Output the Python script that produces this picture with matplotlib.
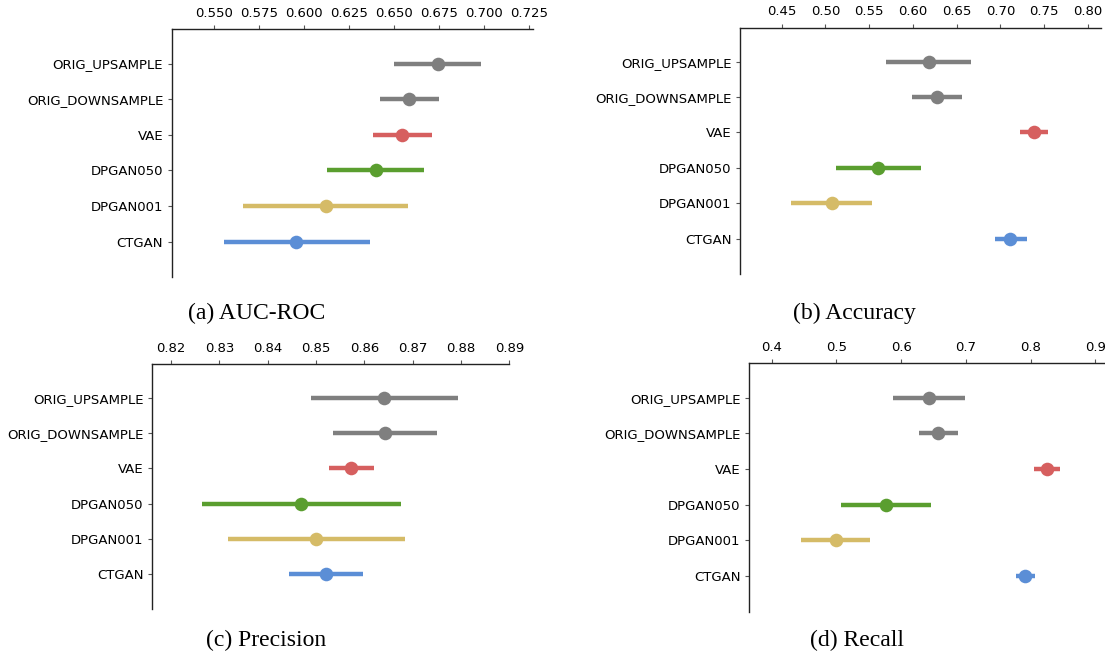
import matplotlib
matplotlib.use('Agg')
import matplotlib.pyplot as plt
from matplotlib.transforms import Bbox, TransformedBbox

# Models (top to bottom)
models = ['ORIG_UPSAMPLE', 'ORIG_DOWNSAMPLE', 'VAE', 'DPGAN050', 'DPGAN001', 'CTGAN']
model_colors = ['#7f7f7f', '#7f7f7f', '#d65f5f', '#5a9e2f', '#d5bb67', '#5b8ed6']

# AUC-ROC: point estimate and interval
auc_mean = [0.6743, 0.6583, 0.6547, 0.6398, 0.6121, 0.5958]
auc_lo = [0.6502, 0.6421, 0.6384, 0.6130, 0.5661, 0.5554]
auc_hi = [0.6982, 0.6750, 0.6709, 0.6665, 0.6581, 0.6365]

# Accuracy
acc_mean = [0.6180, 0.6279, 0.7385, 0.5606, 0.5071, 0.7114]
acc_lo = [0.5695, 0.5987, 0.7223, 0.5116, 0.4606, 0.6935]
acc_hi = [0.6663, 0.6558, 0.7547, 0.6089, 0.5535, 0.7300]

# Precision
prec_mean = [0.8641, 0.8642, 0.8573, 0.8469, 0.8500, 0.8520]
prec_lo = [0.8489, 0.8535, 0.8527, 0.8265, 0.8318, 0.8444]
prec_hi = [0.8794, 0.8750, 0.8621, 0.8675, 0.8685, 0.8597]

# Recall
rec_mean = [0.6434, 0.6571, 0.8249, 0.5760, 0.4987, 0.7920]
rec_lo = [0.5880, 0.6270, 0.8057, 0.5075, 0.4450, 0.7772]
rec_hi = [0.6989, 0.6878, 0.8452, 0.6456, 0.5521, 0.8068]

auc_ticks = [0.550, 0.575, 0.600, 0.625, 0.650, 0.675, 0.700, 0.725]
acc_ticks = [0.45, 0.50, 0.55, 0.60, 0.65, 0.70, 0.75, 0.80]
prec_ticks = [0.82, 0.83, 0.84, 0.85, 0.86, 0.87, 0.88, 0.89]
rec_ticks = [0.4, 0.5, 0.6, 0.7, 0.8, 0.9]

W, H = 1105, 655
fig = plt.figure(figsize=(W / 100, H / 100), dpi=100)


def px_axes(l, r, t, b):
    # pixel box (from top-left) -> figure fraction rect
    return fig.add_axes([l / W, (H - b) / H, (r - l) / W, (b - t) / H])


def draw_panel(ax, mean, lo, hi, ticks, fmt, xlim):
    ypos = list(range(len(models)))
    for i in ypos:
        ax.hlines(i, lo[i], hi[i], color=model_colors[i], linewidth=3.2, zorder=2)
        ax.plot(mean[i], i, 'o', color=model_colors[i], markersize=9.8,
                markeredgewidth=0, zorder=3)
    ax.set_yticks(ypos)
    ax.set_yticklabels(models)
    ax.set_ylim(6, -0.96)
    ax.set_xticks(ticks)
    ax.set_xticklabels([fmt.format(t) for t in ticks])
    ax.set_xlim(*xlim)
    ax.xaxis.tick_top()
    ax.spines['right'].set_visible(False)
    ax.spines['bottom'].set_visible(False)
    for s in ['left', 'top']:
        ax.spines[s].set_color('#222222')
        ax.spines[s].set_linewidth(1.0)
    ax.tick_params(axis='y', labelsize=9.5, length=3, pad=3, color='#555555')
    ax.tick_params(axis='x', labelsize=9.5, length=3, pad=4, color='#555555')


ax1 = px_axes(171.5, 533.3, 29.3, 277.3)
draw_panel(ax1, auc_mean, auc_lo, auc_hi, auc_ticks, '{:.3f}', (0.5265, 0.7274))

ax2 = px_axes(740, 1100.7, 27.7, 274)
draw_panel(ax2, acc_mean, acc_lo, acc_hi, acc_ticks, '{:.2f}', (0.4024, 0.8145))

ax3 = px_axes(151.7, 509.3, 364.3, 609.3)
draw_panel(ax3, prec_mean, prec_lo, prec_hi, prec_ticks, '{:.2f}', (0.8160, 0.8900))

ax4 = px_axes(748.6, 1114, 363.3, 611.7)
draw_panel(ax4, rec_mean, rec_lo, rec_hi, rec_ticks, '{:.1f}', (0.3644, 0.929))

# the first panel's long label is cut off at the left edge
clip = TransformedBbox(Bbox([[28 / W, 0], [1, 1]]), fig.transFigure)
for lab in ax1.get_yticklabels():
    lab.set_clip_box(clip)
    lab.set_clip_on(True)

# sub-captions
cap = dict(fontsize=17, family='Liberation Serif', ha='center', va='baseline')
fig.text(257 / W, (H - 319) / H, '(a) AUC-ROC', **cap)
fig.text(854 / W, (H - 319) / H, '(b) Accuracy', **cap)
fig.text(266 / W, (H - 646.5) / H, '(c) Precision', **cap)
fig.text(857.5 / W, (H - 646.5) / H, '(d) Recall', **cap)

fig.savefig('out.png', dpi=100)
